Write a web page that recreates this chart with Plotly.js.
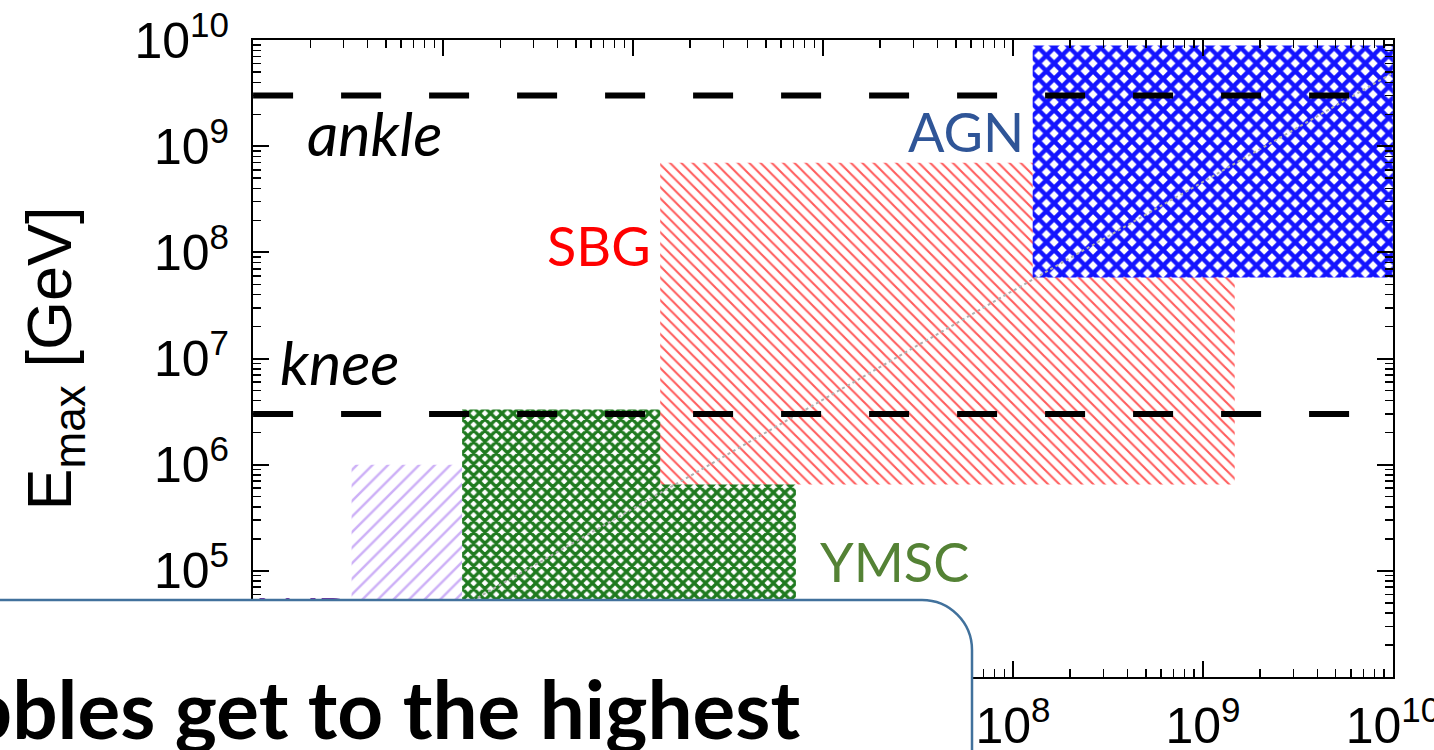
<!DOCTYPE html>
<html><head><meta charset="utf-8">
<script src="https://cdn.plot.ly/plotly-3.0.1.min.js"></script>
<style>html,body{margin:0;padding:0;background:#fff;overflow:hidden}</style>
</head><body><div id="chart" style="width:1434px;height:750px"></div>
<script>
// ---- data ----
const sources   = ['WR', 'YMSC', 'SBG', 'AGN'];
const xLow      = [3.3e4, 1.26e5, 1.39e6, 1.27e8];
const xHigh     = [1.26e5, 7.2e6, 1.47e9, 1e10];
const eLow      = [1e4, 2e4, 6.5e5, 5.8e7];
const eHigh     = [1e6, 3.3e6, 7e8, 8.9e9];
const refNames  = ['ankle', 'knee'];
const refEnergy = [3e9, 3e6];
const hillasX   = [1.26e5, 1e10];
const hillasE   = [4.6e4, 4.9e9];
const tickVals  = [1e4, 1e5, 1e6, 1e7, 1e8, 1e9, 1e10];
const tickText  = ['10<sup>4</sup>', '10<sup>5</sup>', '10<sup>6</sup>', '10<sup>7</sup>',
                   '10<sup>8</sup>', '10<sup>9</sup>', '10<sup>10</sup>'];
const calloutText = 'Superbubbles get to the highest';

// ---- styles ----
const patterns = {
  WR:   {shape: '/',  fgcolor: '#cdb0f7', bgcolor: 'white', size: 11, solidity: 0.22},
  YMSC: {shape: 'x',  fgcolor: '#1f7a1f', bgcolor: 'white', size: 8,  solidity: 0.66},
  SBG:  {shape: '\\', fgcolor: '#ff5c5c', bgcolor: 'white', size: 8,  solidity: 0.26},
  AGN:  {shape: 'x',  fgcolor: '#1414ff', bgcolor: 'white', size: 11, solidity: 0.64}
};
const X0 = 253, X1 = 1393, Y0 = 40, Y1 = 677;
const px = v => (v - X0) / (X1 - X0);
const py = v => (Y1 - v) / (Y1 - Y0);

const traces = [];
sources.forEach((s, i) => {
  traces.push({
    type: 'scatter', mode: 'lines', fill: 'toself',
    x: [xLow[i], xHigh[i], xHigh[i], xLow[i], xLow[i]],
    y: [eLow[i], eLow[i], eHigh[i], eHigh[i], eLow[i]],
    line: {width: 0, color: 'rgba(0,0,0,0)'},
    fillcolor: 'white',
    fillpattern: patterns[s],
    hoverinfo: 'skip', name: s
  });
});
traces.push({
  type: 'scatter', mode: 'lines', x: hillasX, y: hillasE,
  line: {color: '#b0b0b0', width: 2, dash: 'dot'}, hoverinfo: 'skip'
});
refEnergy.forEach((e, i) => {
  traces.push({
    type: 'scatter', mode: 'lines', x: [tickVals[0], tickVals[tickVals.length - 1]], y: [e, e],
    line: {color: 'black', width: 6, dash: '40px,48px'}, hoverinfo: 'skip', name: refNames[i]
  });
});
// label hidden behind the call-out box (text trace so the box can cover it)
traces.push({
  type: 'scatter', mode: 'text', x: [xLow[0]], y: [eHigh[0] / 32],
  text: [sources[0]], textposition: 'middle left',
  textfont: {family: 'Lato', size: 56, color: '#7030a0'}, hoverinfo: 'skip'
});

const axisCommon = {
  type: 'log', range: [3.9995, 10.0005], tickmode: 'array',
  tickvals: tickVals, ticktext: tickText,
  showline: true, linecolor: 'black', linewidth: 2, mirror: 'ticks',
  ticks: 'inside', ticklen: 16, tickwidth: 2, tickcolor: 'black',
  minor: {ticks: 'inside', ticklen: 8, tickwidth: 1.5, tickcolor: 'black', showgrid: false, dtick: 'D1'},
  showgrid: false, zeroline: false, ticklabeloverflow: 'allow',
  tickfont: {family: 'Liberation Sans, Arial, sans-serif', size: 50, color: 'black'}
};

const labelFont = (color, style, size) => ({family: 'Lato', size: size || 54, color: color, style: style || 'normal'});
const annotations = [
  {text: refNames[0], x: px(305), y: py(133), font: labelFont('black', 'italic', 61)},
  {text: refNames[1], x: px(278), y: py(361), font: labelFont('black', 'italic', 61)},
  {text: sources[3], x: px(906), y: py(131), font: labelFont('#2f5597')},
  {text: sources[2], x: px(545), y: py(245), font: labelFont('#ff0000')},
  {text: sources[1], x: px(818), y: py(561), font: labelFont('#548235')},
].map(a => Object.assign({xref: 'paper', yref: 'paper', xanchor: 'left', yanchor: 'middle', showarrow: false}, a));
annotations.push({
  text: calloutText, xref: 'paper', yref: 'paper', x: px(802), y: py(708),
  xanchor: 'right', yanchor: 'middle', showarrow: false,
  font: {family: 'Lato', size: 80, weight: 'bold', color: 'black'}
});

const k = 0.5523 * 50;
const boxPath = `M ${px(-30)},${py(600)} L ${px(922)},${py(600)} C ${px(922 + k)},${py(600)} ${px(972)},${py(650 - k)} ${px(972)},${py(650)} L ${px(972)},${py(800)} L ${px(-30)},${py(800)} Z`;

const layout = {
  width: 1434, height: 750,
  margin: {l: X0, r: 1434 - X1, t: Y0, b: 750 - Y1},
  paper_bgcolor: 'white', plot_bgcolor: 'white', showlegend: false,
  xaxis: Object.assign({}, axisCommon, {ticklabelstandoff: 4}),
  yaxis: Object.assign({}, axisCommon, {ticklabelstandoff: 12,
    title: {text: 'E<sub>max</sub> [GeV]', standoff: 42,
      font: {family: 'Liberation Sans, Arial, sans-serif', size: 63, color: 'black'}}}),
  shapes: [{type: 'path', xref: 'paper', yref: 'paper', layer: 'above', path: boxPath,
    fillcolor: 'white', line: {color: '#41719c', width: 2.5}}],
  annotations: annotations
};
Plotly.newPlot('chart', traces, layout, {staticPlot: true});
</script></body></html>
